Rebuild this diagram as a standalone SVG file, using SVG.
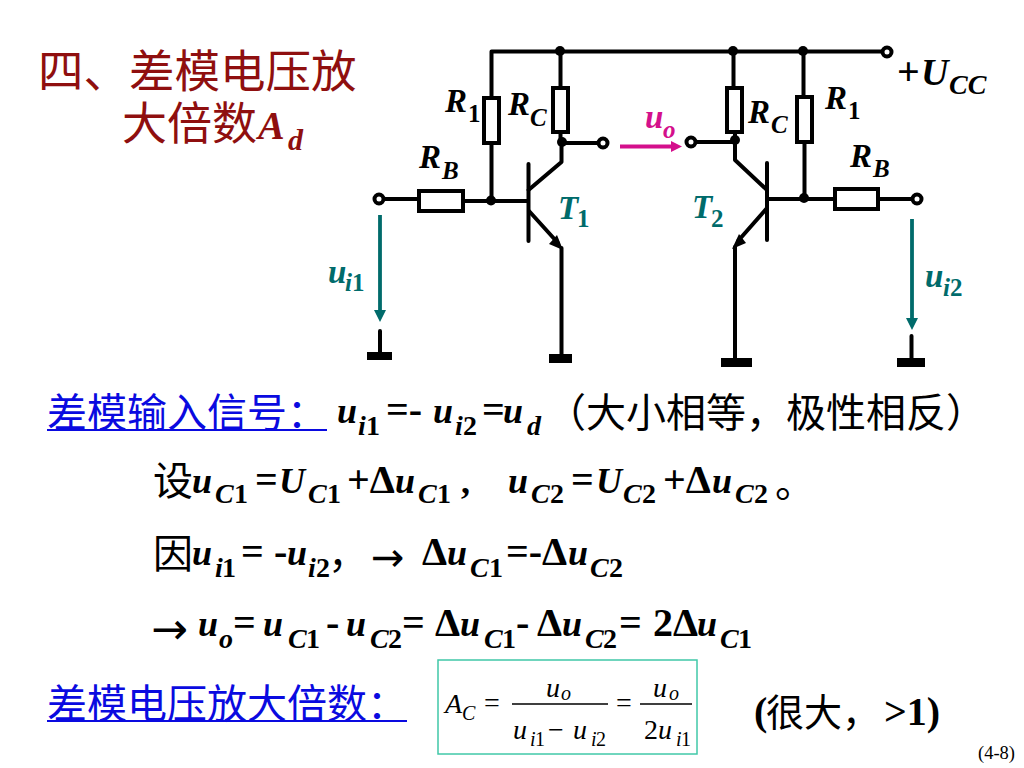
<svg xmlns="http://www.w3.org/2000/svg" width="1024" height="768" viewBox="0 0 1024 768">
<style>
text{font-family:"Liberation Serif","Noto Sans CJK SC",serif;white-space:pre}
.w{fill:none;stroke:#000;stroke-width:4;stroke-linecap:round;stroke-linejoin:round}
.r{fill:#fff;stroke:#000;stroke-width:4}
.t{fill:#fff;stroke:#000;stroke-width:4}
.j{fill:#000}
.g{fill:#000}
.bi{font-weight:bold;font-style:italic}
.b{font-weight:bold}
.m{font-size:36px}
.o{font-size:40px;font-weight:bold}
.s{font-size:28px}
.l{font-size:33px}
.ls{font-size:25px}
.cn{font-family:"Noto Sans CJK SC",sans-serif;font-size:40px}
.ar{font-family:"DejaVu Sans",sans-serif}
.teal{fill:#006b6b}
.pink{fill:#d4108c}
.blue{fill:#0a0ae0}
.red{fill:#8f0f0f}
.f{font-size:28px}
.fi{font-size:28px;font-style:italic}
.fs{font-size:20px}
.fsi{font-size:20px;font-style:italic}
</style>
<g id="connectors">
<path class="w" d="M491.5 200V51.500H887"/>
<path class="w" d="M560.5 51.500V88M560.5 132V143M603 143H561.500V162L528.500 190"/>
<path class="w" d="M380 199H418M463 201H527"/>
<path class="w" d="M528.500 164V241"/>
<path class="w" d="M529 211L558 243"/>
<path class="w" d="M561.500 248V354"/>
<path class="w" d="M733.500 51.500V88M735 132V160L767 190M691 142H735"/>
<path class="w" d="M767 163V240"/>
<path class="w" d="M767 208L738 241"/>
<path class="w" d="M735 247V358"/>
<path class="w" d="M803.500 51.500V97M804.500 142V198M768 199H834M879 199H917"/>
<path class="w" d="M380 331V352M911.500 336V358"/>
<path class="g" d="M563 250L549 244L557 235Z"/>
<path class="g" d="M732 249L746 243L739 234Z"/>
<path fill="none" stroke="#006b6b" stroke-width="3.800" d="M380 215V312M912 219V320"/>
<path fill="#006b6b" d="M374 310H386L380 322ZM906 318H918L912 330Z"/>
<path fill="none" stroke="#d4108c" stroke-width="3.800" d="M620 146.500H672"/>
<path fill="#d4108c" d="M671 141L682 146.500L671 152Z"/>
</g>
<g id="junctions">
<circle class="j" cx="560" cy="51" r="5"/><circle class="j" cx="733" cy="51" r="5"/><circle class="j" cx="803" cy="51" r="5"/>
<circle class="j" cx="491" cy="200.500" r="5"/><circle class="j" cx="804" cy="198" r="5"/>
<circle class="j" cx="562" cy="142" r="5"/><circle class="j" cx="735" cy="140" r="5"/>
</g>
<g id="R1-left"><rect class="r" x="484" y="98" width="15" height="45"/><text class="l bi" x="445" y="112">R</text><text class="ls b" x="468" y="122">1</text></g>
<g id="RC-left"><rect class="r" x="553" y="88" width="15" height="44"/><text class="l bi" x="508" y="115">R</text><text class="ls bi" x="530" y="126">C</text></g>
<g id="RB-left"><rect class="r" x="419" y="191" width="44" height="20"/><text class="l bi" x="419" y="168">R</text><text class="ls bi" x="442" y="179">B</text></g>
<g id="RC-right"><rect class="r" x="727" y="88" width="15" height="44"/><text class="l bi" x="748" y="123">R</text><text class="ls bi" x="771" y="133">C</text></g>
<g id="R1-right"><rect class="r" x="797" y="97" width="15" height="45"/><text class="l bi" x="825" y="109">R</text><text class="ls b" x="848" y="119">1</text></g>
<g id="RB-right"><rect class="r" x="835" y="189" width="43" height="20"/><text class="l bi" x="850" y="167">R</text><text class="ls bi" x="873" y="177">B</text></g>
<g id="terminals">
<circle class="t" cx="379" cy="199" r="4.500"/><circle class="t" cx="603" cy="143" r="4.500"/><circle class="t" cx="691" cy="142" r="4.500"/><circle class="t" cx="917" cy="199" r="4.500"/><circle class="t" cx="887" cy="52" r="4.500"/>
</g>
<g id="grounds">
<rect class="g" x="367" y="352" width="25" height="8"/><rect class="g" x="549" y="354" width="23" height="9"/><rect class="g" x="721" y="358" width="31" height="9"/><rect class="g" x="897" y="358" width="28" height="9"/>
</g>
<g id="T1"><text class="l bi teal" x="558" y="219">T</text><text class="ls b teal" x="577" y="227">1</text></g>
<g id="T2"><text class="l bi teal" x="692" y="218">T</text><text class="ls b teal" x="711" y="227">2</text></g>
<g id="uo"><text class="l bi pink" x="645" y="128">u</text><text class="ls bi pink" x="663" y="138">o</text></g>
<g id="ui1"><text class="l bi teal" x="328" y="283">u</text><text class="ls bi teal" x="345" y="291">i</text><text class="ls b teal" x="352" y="291">1</text></g>
<g id="ui2"><text class="l bi teal" x="925" y="287">u</text><text class="ls bi teal" x="943" y="296">i</text><text class="ls b teal" x="950" y="296">2</text></g>
<g id="Ucc"><text class="b" font-size="40" x="897" y="85">+</text><text class="bi" font-size="38" x="921" y="85">U</text><text class="s bi" x="949" y="94">CC</text></g>

<g id="title">
<text class="cn red" style="font-size:45.500px" x="38" y="88">四、差模电压放</text>
<text class="cn red" style="font-size:45px" x="122" y="140">大倍数</text>
<text class="bi red" font-size="40" x="258" y="139">A</text><text class="bi red" font-size="30" x="288" y="150">d</text>
</g>
<g id="line1">
<text class="cn blue" x="47" y="427">差模输入信号：</text>
<rect class="blue" x="47" y="429" width="280" height="2"/>
<text class="m bi" x="337" y="423">u</text><text class="s bi" x="358" y="435">i</text><text class="s b" x="366" y="435">1</text>
<text class="o" x="386" y="423">=-</text>
<text class="m bi" x="433" y="423">u</text><text class="s bi" x="455" y="435">i</text><text class="s b" x="463" y="435">2</text>
<text class="o" x="482" y="423">=</text>
<text class="m bi" x="503" y="423">u</text><text class="s bi" x="527" y="435">d</text>
<text class="cn" x="546" y="427">（大小相等，极性相反）</text>
</g>
<g id="line2">
<text class="cn" x="153" y="495">设</text>
<text class="m bi" x="192" y="493">u</text><text class="s bi" x="215" y="503">C</text><text class="s b" x="234" y="503">1</text>
<text class="o" x="255" y="493">=</text>
<text class="m bi" x="279" y="493">U</text><text class="s bi" x="308" y="503">C</text><text class="s b" x="327" y="503">1</text>
<text class="o" x="347" y="493">+Δ</text>
<text class="m bi" x="395" y="493">u</text><text class="s bi" x="418" y="503">C</text><text class="s b" x="437" y="503">1</text>
<text class="m b" x="461" y="493">,</text>
<text class="m bi" x="508" y="493">u</text><text class="s bi" x="531" y="503">C</text><text class="s b" x="550" y="503">2</text>
<text class="o" x="571" y="493">=</text>
<text class="m bi" x="596" y="493">U</text><text class="s bi" x="623" y="503">C</text><text class="s b" x="642" y="503">2</text>
<text class="o" x="663" y="493">+Δ</text>
<text class="m bi" x="712" y="493">u</text><text class="s bi" x="735" y="503">C</text><text class="s b" x="754" y="503">2</text>
<text class="cn" x="775" y="497">。</text>
</g>
<g id="line3">
<text class="cn" x="153" y="568">因</text>
<text class="m bi" x="192" y="565">u</text><text class="s bi" x="215" y="577">i</text><text class="s b" x="222" y="577">1</text>
<text class="o" x="241" y="565">=</text>
<text class="o" x="274" y="565">-</text>
<text class="m bi" x="287" y="565">u</text><text class="s bi" x="308" y="577">i</text><text class="s b" x="316" y="577">2</text>
<text class="cn" x="328" y="568">，</text>
<text class="ar" font-size="40" x="371" y="571">→</text>
<text class="o" x="422" y="565">Δ</text>
<text class="m bi" x="447" y="565">u</text><text class="s bi" x="470" y="577">C</text><text class="s b" x="489" y="577">1</text>
<text class="o" x="506" y="565">=-Δ</text>
<text class="m bi" x="568" y="565">u</text><text class="s bi" x="590" y="577">C</text><text class="s b" x="609" y="577">2</text>
</g>
<g id="line4">
<text class="ar" font-size="44" x="151" y="644">→</text>
<text class="m bi" x="198" y="636">u</text><text class="s bi" x="219" y="648">o</text>
<text class="o" x="233" y="636">=</text>
<text class="m bi" x="263" y="636">u</text><text class="s bi" x="288" y="648">C</text><text class="s b" x="306" y="648">1</text>
<text class="o" x="326" y="636">-</text>
<text class="m bi" x="346" y="636">u</text><text class="s bi" x="370" y="648">C</text><text class="s b" x="388" y="648">2</text>
<text class="o" x="402" y="636">=</text>
<text class="o" x="435" y="636">Δ</text>
<text class="m bi" x="460" y="636">u</text><text class="s bi" x="484" y="648">C</text><text class="s b" x="502" y="648">1</text>
<text class="o" x="516" y="636">-</text>
<text class="o" x="537" y="636">Δ</text>
<text class="m bi" x="562" y="636">u</text><text class="s bi" x="585" y="648">C</text><text class="s b" x="603" y="648">2</text>
<text class="o" x="619" y="636">=</text>
<text class="o" x="653" y="636">2Δ</text>
<text class="m bi" x="697" y="636">u</text><text class="s bi" x="720" y="648">C</text><text class="s b" x="738" y="648">1</text>
</g>
<g id="line5">
<text class="cn blue" x="47" y="718">差模电压放大倍数：</text>
<rect class="blue" x="47" y="720" width="360" height="2"/>
<text class="o" font-size="38" x="754" y="725">(</text>
<text class="cn" style="font-size:38px" x="766" y="726">很大，</text>
<text class="o" x="884" y="725">&gt;1)</text>
</g>
<g id="formula">
<rect x="438" y="660" width="259" height="94" fill="#fff" stroke="#40c8a8" stroke-width="1.500"/>
<text class="fi" x="445" y="713">A</text><text class="fsi" x="462" y="720">C</text>
<text class="f" x="484" y="712">=</text>
<path d="M512 704H608M640 704H692" stroke="#000" stroke-width="1.300" fill="none"/>
<text class="fi" x="546" y="697">u</text><text class="fsi" x="561" y="700">o</text>
<text class="fi" x="513" y="739">u</text><text class="fsi" x="530" y="746">i</text><text class="fs" x="535" y="746">1</text>
<text class="f" x="548" y="739">−</text>
<text class="fi" x="573" y="739">u</text><text class="fsi" x="591" y="746">i</text><text class="fs" x="596" y="746">2</text>
<text class="f" x="616" y="712">=</text>
<text class="fi" x="653" y="697">u</text><text class="fsi" x="669" y="700">o</text>
<text class="f" x="644" y="739">2</text><text class="fi" x="658" y="739">u</text><text class="fsi" x="676" y="746">i</text><text class="fs" x="681" y="746">1</text>
</g>
<text id="page" font-size="18.500" x="978" y="759">(4-8)</text>
</svg>
